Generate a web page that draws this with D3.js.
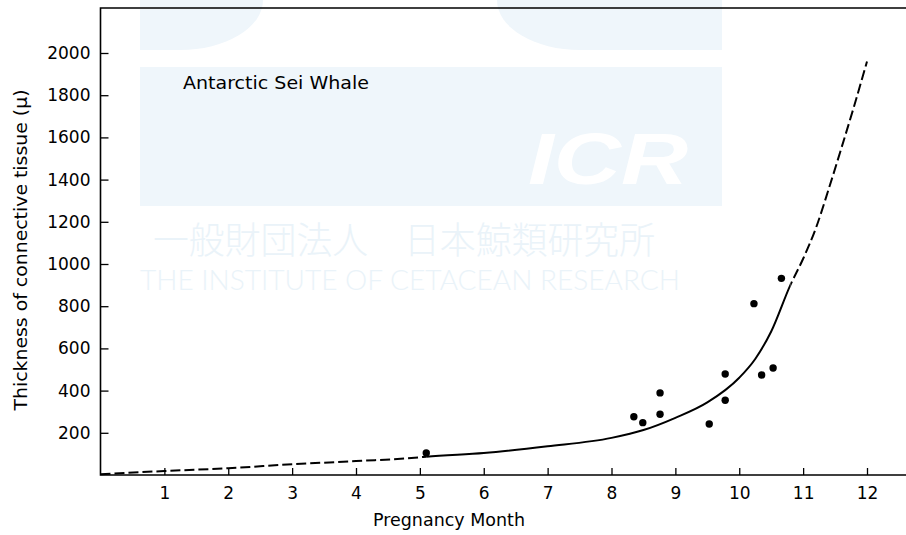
<!DOCTYPE html>
<meta charset="utf-8">
<style>
body { margin: 0; background: #ffffff; }
svg { display: block; }
.tick text { font-family: "DejaVu Sans", sans-serif; font-size: 17px; fill: #000; }
.tick line { stroke: #000; stroke-width: 1.3px; }
.frame { stroke: #000; stroke-width: 1.6px; fill: none; }
.curve { fill: none; stroke: #000; stroke-width: 2px; }
.dot { fill: #000; }
.label { font-family: "DejaVu Sans", sans-serif; font-size: 17px; fill: #000; }
.wm-band { fill: #eff6fb; }
.wm-text { fill: #eaf3f9; }
</style>
<svg width="906" height="535"></svg>
<script src="https://cdn.jsdelivr.net/npm/d3@7"></script>
<script>

// observed thickness of connective tissue, by pregnancy month
const obsMonths = [5.1, 8.35, 8.49, 8.76, 8.76, 9.53, 9.78, 9.78, 10.23, 10.35, 10.53, 10.66];
const obsValues = [104, 276, 248, 389, 288, 242, 479, 354, 812, 474, 507, 932];

// fitted curve
const curveMonths = [0, 1, 2, 3, 4, 5, 5.1, 6, 7, 8, 8.5, 9, 9.5, 10, 10.25, 10.5, 10.8, 11, 11.2, 11.4, 11.6, 11.8, 12];
const curveValues = [3, 19, 32, 51, 66, 84, 87, 104, 136, 176, 213, 271, 344, 461, 550, 680, 900, 1025, 1170, 1355, 1550, 1750, 1960];
const solidFrom = 5.1, solidTo = 10.8;

const xTicks = [1, 2, 3, 4, 5, 6, 7, 8, 9, 10, 11, 12];
const yTicks = [200, 400, 600, 800, 1000, 1200, 1400, 1600, 1800, 2000];

const W = 906, H = 535;
const axLeft = 100.5, axBottom = 475, axTop = 8;

const x = d3.scaleLinear().domain([0, 12]).range([axLeft, 867]);
const y = d3.scaleLinear().domain([0, 2000]).range([axBottom, 53]);

const svg = d3.select("svg");

// faint ICR watermark in the scan
const wm = svg.append("g");
wm.append("path").attr("class", "wm-band")
  .attr("d", "M140,0H263A83,50 0 0 1 180,50H140Z");
wm.append("path").attr("class", "wm-band")
  .attr("d", "M497,0H722V50H580A83,50 0 0 1 497,0Z");
wm.append("rect").attr("class", "wm-band")
  .attr("x", 140).attr("y", 67).attr("width", 582).attr("height", 139);
wm.append("text")
  .attr("x", 528).attr("y", 184)
  .attr("textLength", 160).attr("lengthAdjust", "spacingAndGlyphs")
  .style("font-family", "Liberation Sans, sans-serif")
  .style("font-weight", "bold").style("font-style", "italic")
  .style("font-size", "72px").style("fill", "#ffffff")
  .text("ICR");
wm.append("text").attr("class", "wm-text")
  .attr("x", 153).attr("y", 254)
  .attr("textLength", 502).attr("lengthAdjust", "spacingAndGlyphs")
  .style("font-family", "Noto Sans CJK JP, sans-serif")
  .style("font-weight", 300).style("font-size", "37px")
  .text("一般財団法人　日本鯨類研究所");
wm.append("text").attr("class", "wm-text")
  .attr("x", 140).attr("y", 290)
  .attr("textLength", 540).attr("lengthAdjust", "spacingAndGlyphs")
  .style("font-family", "Lato, sans-serif")
  .style("font-weight", 300).style("font-size", "28px")
  .text("THE INSTITUTE OF CETACEAN RESEARCH");

// axes
svg.append("g")
  .attr("transform", "translate(0," + axBottom + ")")
  .call(d3.axisBottom(x).tickValues(xTicks).tickSizeInner(-7).tickSizeOuter(0).tickPadding(12))
  .call(g => g.select(".domain").remove());

svg.append("g")
  .attr("transform", "translate(" + axLeft + ",0)")
  .call(d3.axisLeft(y).tickValues(yTicks).tickFormat(d3.format("d"))
    .tickSizeInner(-8).tickSizeOuter(0).tickPadding(10))
  .call(g => g.select(".domain").remove());

svg.append("path").attr("class", "frame")
  .attr("d", "M" + W + "," + axTop + "H" + axLeft + "V" + axBottom + "H" + W);

// curve: solid in the observed range, dashed outside
const line = d3.line()
  .x(d => x(d[0]))
  .y(d => y(d[1]))
  .curve(d3.curveMonotoneX);
const pts = d3.zip(curveMonths, curveValues);

const defs = svg.append("defs");
defs.append("clipPath").attr("id", "clipSolid").append("rect")
  .attr("x", x(solidFrom)).attr("y", 0)
  .attr("width", x(solidTo) - x(solidFrom)).attr("height", H);
const cd = defs.append("clipPath").attr("id", "clipDash");
cd.append("rect").attr("x", 0).attr("y", 0).attr("width", x(solidFrom)).attr("height", H);
cd.append("rect").attr("x", x(solidTo)).attr("y", 0).attr("width", W - x(solidTo)).attr("height", H);

svg.append("path").datum(pts)
  .attr("class", "curve")
  .attr("clip-path", "url(#clipSolid)")
  .attr("d", line);
svg.append("path").datum(pts)
  .attr("class", "curve")
  .attr("clip-path", "url(#clipDash)")
  .style("stroke-dasharray", "10,4")
  .attr("d", line);

// observations
svg.selectAll(".dot")
  .data(d3.zip(obsMonths, obsValues))
  .enter().append("circle")
  .attr("class", "dot")
  .attr("cx", d => x(d[0]))
  .attr("cy", d => y(d[1]))
  .attr("r", 3.7);

// labels
svg.append("text").attr("class", "label")
  .attr("x", 183).attr("y", 89)
  .attr("textLength", 186).attr("lengthAdjust", "spacingAndGlyphs")
  .text("Antarctic Sei Whale");

svg.append("text").attr("class", "label")
  .attr("x", 449).attr("y", 526)
  .attr("text-anchor", "middle")
  .attr("textLength", 152).attr("lengthAdjust", "spacingAndGlyphs")
  .text("Pregnancy Month");

svg.append("text").attr("class", "label")
  .attr("transform", "translate(27,250) rotate(-90)")
  .attr("text-anchor", "middle")
  .attr("textLength", 321).attr("lengthAdjust", "spacingAndGlyphs")
  .text("Thickness of connective tissue (μ)");

</script>
